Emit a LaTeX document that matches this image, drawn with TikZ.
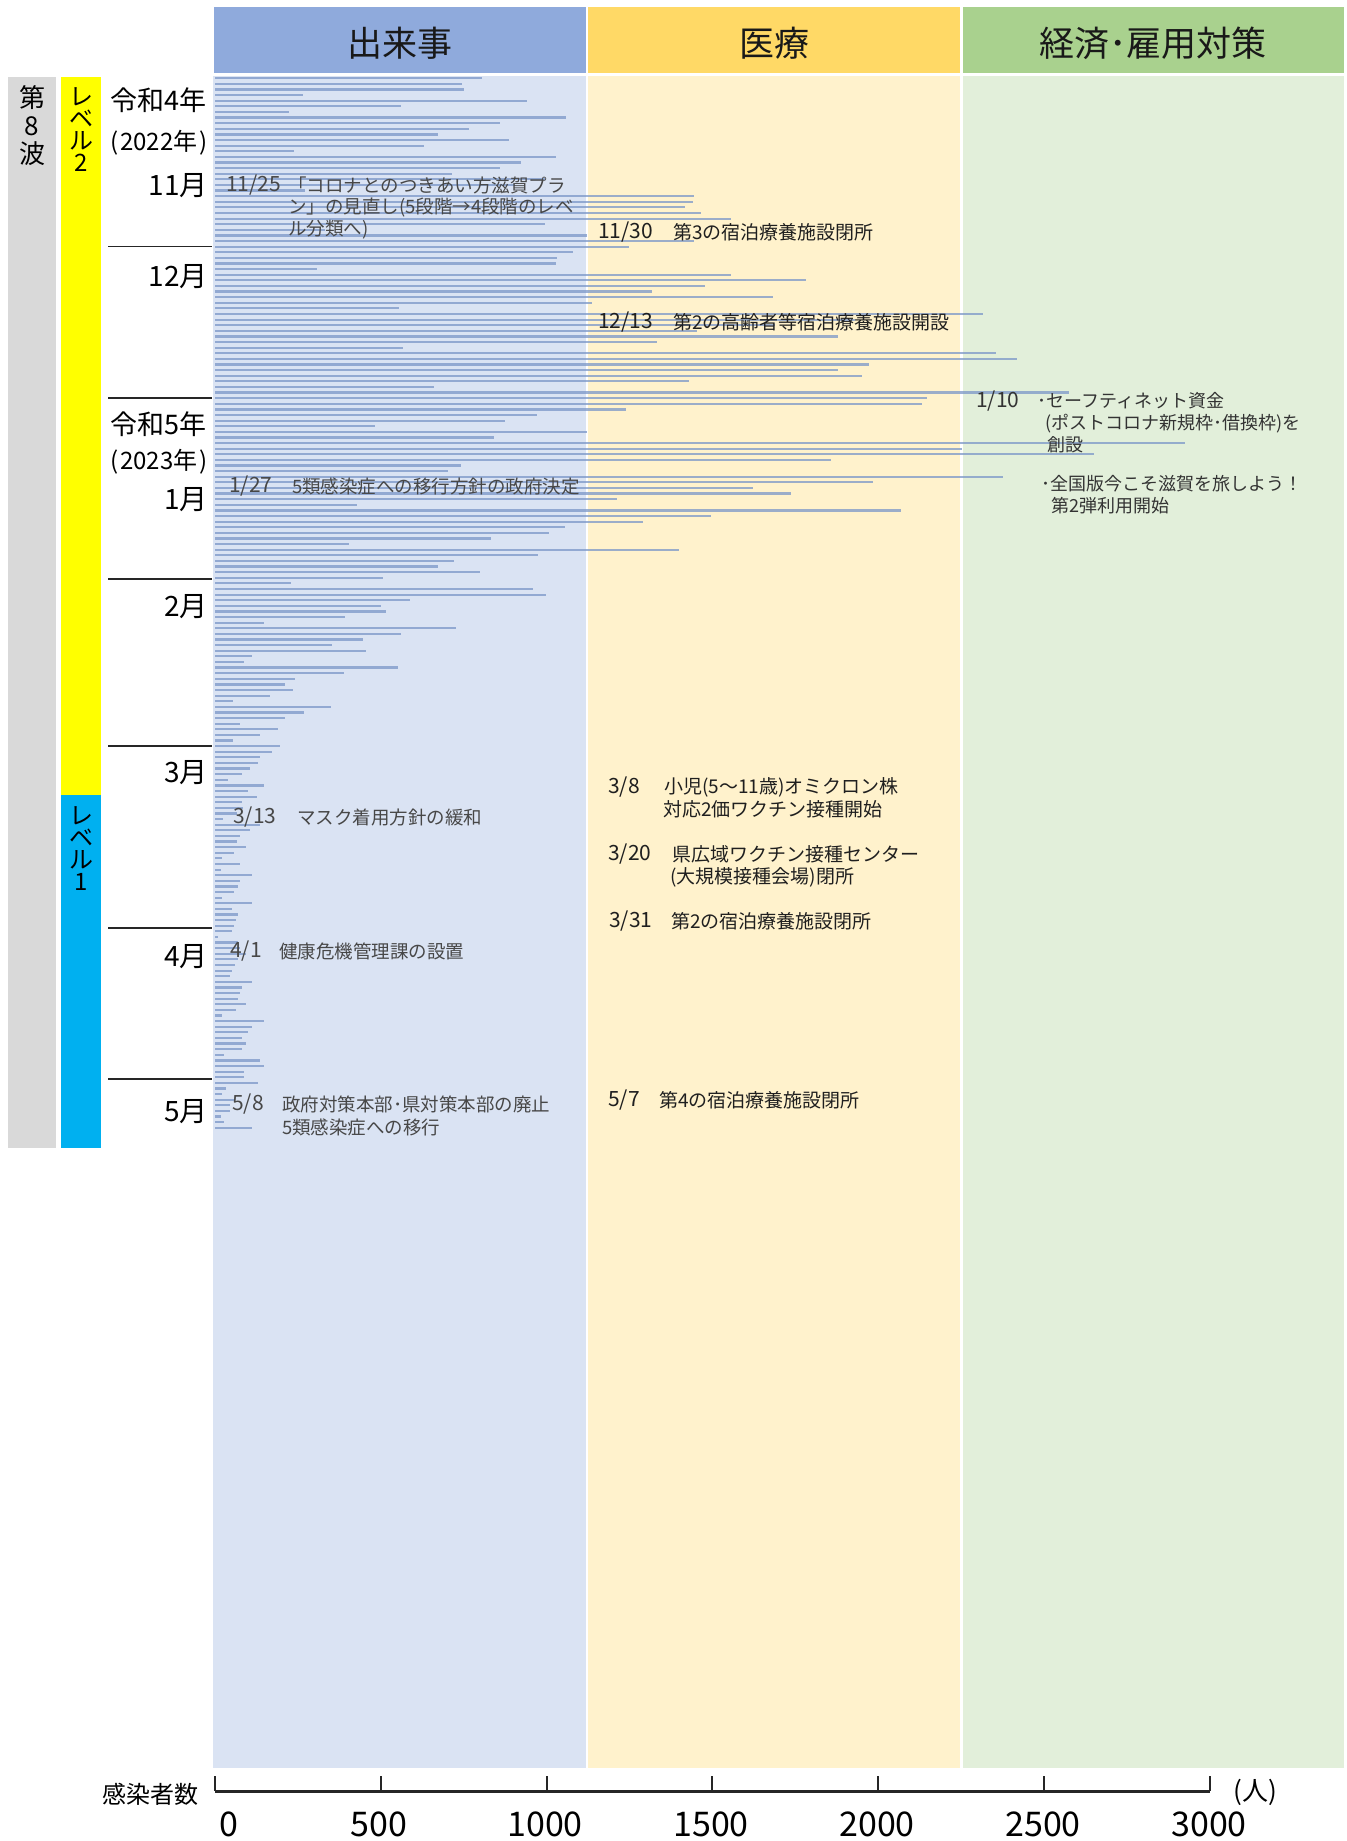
\documentclass[tikz,border=0pt]{standalone}
\usepackage{fontspec}
\setmainfont{Noto Sans CJK JP}
\definecolor{hdrA}{HTML}{8FAADC}
\definecolor{bodyA}{HTML}{DAE3F3}
\definecolor{hdrB}{HTML}{FFD966}
\definecolor{bodyB}{HTML}{FFF2CC}
\definecolor{hdrC}{HTML}{A9D18E}
\definecolor{bodyC}{HTML}{E2EFDA}
\definecolor{waveGray}{HTML}{D9D9D9}
\definecolor{lvTwo}{HTML}{FFFF00}
\definecolor{lvOne}{HTML}{00B0F0}
\definecolor{barCol}{HTML}{7A96C8}
\definecolor{txtA}{HTML}{474747}
\definecolor{txtB}{HTML}{1F1F1F}
\definecolor{txtC}{HTML}{333333}
\begin{document}
\begin{tikzpicture}[x=1pt,y=-1pt,
  hdr/.style={font=\fontsize{35}{40}\selectfont, text=black!90, inner sep=0pt},
  mon/.style={anchor=east, font=\fontsize{28}{32}\selectfont, inner sep=0pt},
  era/.style={anchor=west, font=\fontsize{27}{30}\selectfont, inner sep=0pt},
  yr/.style={anchor=west, font=\fontsize{24}{28}\selectfont, inner sep=0pt},
  evA/.style={anchor=west, inner sep=0pt, font=\fontsize{18.5}{22}\selectfont, text=txtA},
  evB/.style={anchor=west, inner sep=0pt, font=\fontsize{19}{22}\selectfont, text=txtB},
  evC/.style={anchor=west, inner sep=0pt, font=\fontsize{18}{22}\selectfont, text=txtC},
  dateA/.style={evA, font=\fontsize{21}{24}\selectfont},
  dateB/.style={evB, font=\fontsize{21}{24}\selectfont},
  dateC/.style={evC, font=\fontsize{21}{24}\selectfont},
  divider/.style={line width=1.5pt, draw=black!85},
  casebar/.style={line width=2.2pt, draw=barCol, draw opacity=0.75},
  vlab/.style={align=center, inner sep=0pt},
  tickmark/.style={line width=2pt, draw=black!85},
  axisline/.style={line width=3pt, draw=black!85},
  axlab/.style={font=\fontsize{34}{38}\selectfont, inner sep=0pt},
]
\useasboundingbox (0,0) rectangle (1346,1841);
\fill[white] (0,0) rectangle (1346,1841);
% columns
\fill[hdrA] (214,7) rectangle (586,73);
\fill[bodyA] (213,76) rectangle (586,1768);
\fill[hdrB] (588,7) rectangle (960,73);
\fill[bodyB] (588,76) rectangle (960,1768);
\fill[hdrC] (963,7) rectangle (1344,73);
\fill[bodyC] (963,76) rectangle (1344,1768);
% left bars
\fill[waveGray] (8,77.5) rectangle (56,1148);
\fill[lvTwo] (61,77.5) rectangle (101,795);
\fill[lvOne] (61,795) rectangle (101,1148);
% daily cases
\foreach \v [count=\i from 0] in {267,247,249,88,312,186,74,351,285,254,223,294,209,79,341,306,285,237,330,300,90,479,478,470,486,516,330,110,372,479,414,358,342,341,102,516,591,490,437,558,377,184,768,640,560,482,623,442,188,781,802,654,623,647,474,219,854,712,707,411,322,290,160,372,279,970,747,879,616,246,233,788,658,538,576,402,142,686,496,428,350,334,276,134,464,323,239,223,265,168,76,318,331,195,166,171,130,49,241,186,148,117,151,37,29,183,129,80,70,78,55,18,116,89,70,25,63,45,18,65,57,45,43,35,27,13,49,33,42,27,28,22,8,45,35,25,22,31,19,7,25,6,37,25,23,19,7,37,17,23,21,19,17,3,23,25,31,23,20,17,15,37,27,25,23,31,21,7,49,37,33,27,31,27,9,45,49,29,29,43,11,7,20,15,15,6,9,37}
  \draw[casebar] (215,{78.3+5.612*\i}) -- ++(\v,0);
% headers
\node[hdr] (hA) at (400,43) {出来事};
\node[hdr] (hB) at (774,43) {医療};
\node[hdr] (hC) at (1153,43) {経済･雇用対策};
% vertical labels
\node[vlab, font=\fontsize{26}{28}\selectfont] (wave) at (32,126) {第\\8\\波};
\node[vlab, font=\fontsize{24}{22}\selectfont] (lv2) at (81,130) {レ\\ベ\\ル\\2};
\node[vlab, font=\fontsize{24}{22}\selectfont] (lv1) at (81,849) {レ\\ベ\\ル\\1};
% month labels
\node[era] (r4) at (110,100) {令和4年};
\node[yr] (y22) at (110,143) {(\kern2pt 2022年\kern2pt)};
\node[mon] (m11) at (208,186) {11月};
\node[mon] (m12) at (208,277) {12月};
\node[era] (r5) at (110,424) {令和5年};
\node[yr] (y23) at (110,462) {(\kern2pt 2023年\kern2pt)};
\node[mon] (m1) at (208,500) {1月};
\node[mon] (m2) at (208,607) {2月};
\node[mon] (m3) at (208,773) {3月};
\node[mon] (m4) at (208,957) {4月};
\node[mon] (m5) at (208,1112) {5月};
% dividers
\foreach \yy in {246.6,398,579,746,928,1079}
  \draw[divider] (108,\yy) -- (212,\yy);
% events column 1
\node[dateA] (d1125) at (226,185) {11/25};
\node[evA] (e1125a) at (288,185) {「コロナとのつきあい方滋賀プラ};
\node[evA] (e1125b) at (288,208) {ン」の見直し(5段階→4段階のレベ};
\node[evA] (e1125c) at (288,230) {ル分類へ)};
\node[dateA] (d127) at (229,486) {1/27};
\node[evA] (e127) at (292,486) {5類感染症への移行方針の政府決定};
\node[dateA] (d313) at (233,817) {3/13};
\node[evA] (e313) at (297,817) {マスク着用方針の緩和};
\node[dateA] (d41) at (230,951) {4/1};
\node[evA] (e41) at (279,951) {健康危機管理課の設置};
\node[dateA] (d58) at (232,1104) {5/8};
\node[evA] (e58a) at (282,1104) {政府対策本部･県対策本部の廃止};
\node[evA] (e58b) at (282,1127) {5類感染症への移行};
% events column 2
\node[dateB] (d1130) at (598,232) {11/30};
\node[evB] (e1130) at (673,232) {第3の宿泊療養施設閉所};
\node[dateB] (d1213) at (598,322) {12/13};
\node[evB] (e1213) at (673,322) {第2の高齢者等宿泊療養施設開設};
\node[dateB] (d38) at (608,787) {3/8};
\node[evB] (e38a) at (664,787) {小児(5～11歳)オミクロン株};
\node[evB] (e38b) at (663,809) {対応2価ワクチン接種開始};
\node[dateB] (d320) at (608,854) {3/20};
\node[evB] (e320a) at (672,854) {県広域ワクチン接種センター};
\node[evB] (e320b) at (670,877) {(大規模接種会場)閉所};
\node[dateB] (d331) at (609,921) {3/31};
\node[evB] (e331) at (671,921) {第2の宿泊療養施設閉所};
\node[dateB] (d57) at (608,1100) {5/7};
\node[evB] (e57) at (659,1100) {第4の宿泊療養施設閉所};
% events column 3
\node[dateC] (d110) at (976,401) {1/10};
\node[evC] (e110a) at (1037,401) {･セーフティネット資金};
\node[evC] (e110b) at (1045,424) {(ポストコロナ新規枠･借換枠)を};
\node[evC] (e110c) at (1047,445) {創設};
\node[evC] (e110d) at (1041,484) {･全国版今こそ滋賀を旅しよう！};
\node[evC] (e110e) at (1051,506) {第2弾利用開始};
% axis
\draw[axisline] (215,1791) -- (1210,1791);
\foreach \k in {0,...,6}
  \draw[tickmark] ({215+165.83*\k},1776) -- ({215+165.83*\k},1791);
\node[axlab] (t0) at (229,1824) {0};
\node[axlab] (t500) at (379,1824) {500};
\node[axlab] (t1000) at (545,1824) {1000};
\node[axlab] (t1500) at (711,1824) {1500};
\node[axlab] (t2000) at (877,1824) {2000};
\node[axlab] (t2500) at (1043,1824) {2500};
\node[axlab] (t3000) at (1209,1824) {3000};
\node[inner sep=0pt, font=\fontsize{24}{28}\selectfont] (axname) at (150,1794) {感染者数};
\node[inner sep=0pt, font=\fontsize{26}{30}\selectfont] (axunit) at (1255,1792) {(人)};
\end{tikzpicture}
\end{document}
